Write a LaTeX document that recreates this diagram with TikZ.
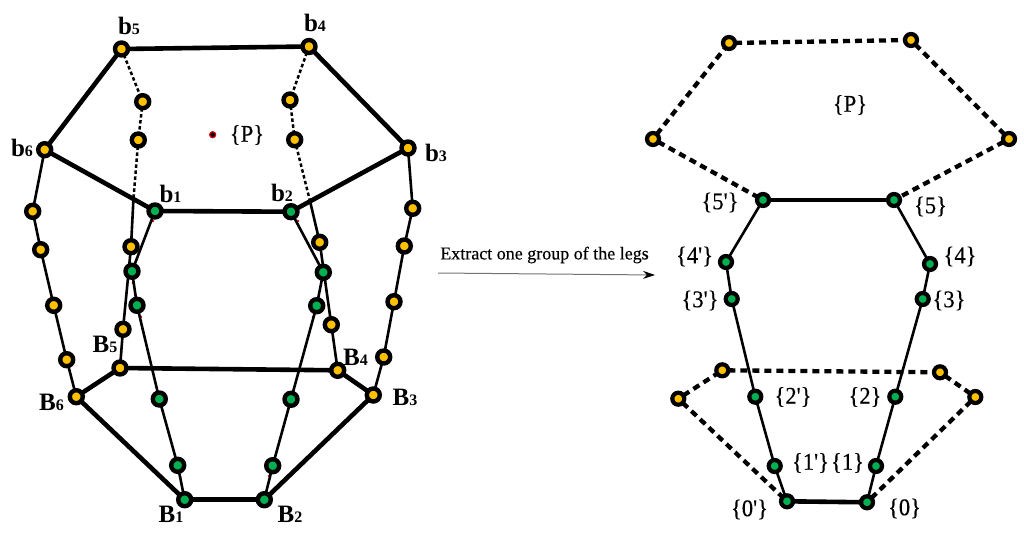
\documentclass[tikz,border=0pt]{standalone}
\usepackage{fontspec}
\setmainfont{Liberation Serif}
\newfontfamily\lf{Liberation Serif}[FakeBold=0.35]
\usetikzlibrary{arrows.meta}
\definecolor{jy}{HTML}{FFC000}
\definecolor{jg}{HTML}{00B050}
\newcommand{\bl}[2]{{\fontsize{25}{27}\bfseries\selectfont #1\fontsize{16}{18}\selectfont\bfseries #2}}
\newcommand{\tl}[1]{\scalebox{.94}[1]{\fontsize{24}{26}\lf\selectfont #1}}
\newcommand{\qt}{\textquotesingle}
\tikzset{
 yj/.style={circle,draw=black,fill=jy,line width=4.4pt,minimum size=13pt,inner sep=0pt,outer sep=0pt},
 gj/.style={circle,draw=black,fill=jg,line width=4.4pt,minimum size=13pt,inner sep=0pt,outer sep=0pt},
 yr/.style={yj,line width=4.2pt,minimum size=12pt},
 gr/.style={gj,line width=4.2pt,minimum size=12pt},
 thickl/.style={line width=4.6pt,line cap=round},
 thinl/.style={line width=2.6pt},
 dotl/.style={line width=2.5pt,dash pattern=on 3.5pt off 2.5pt},
 dashl/.style={line width=4.3pt,dash pattern=on 7pt off 5pt},
 lab/.style={inner sep=0pt,outer sep=0pt},
 speck/.style={circle,fill=red!85!black,minimum size=2.6pt,inner sep=0pt},
}
\begin{document}
\begin{tikzpicture}[x=1pt,y=-1pt]
\useasboundingbox (0,0) rectangle (1024,535);
% left figure: specks under the green joints
\foreach \n/\p in {s1/{153,221},s2/{298,221},s3/{133,283},s4/{141,317},s5/{163,411},s6/{180,477},s7/{313,317},s8/{288,411},s9/{269,476}}
  \node[speck] (\n) at (\p) {};
% yellow joints
\node[yj] (b5) at (121.5,49) {};
\node[yj] (b4) at (309,46.5) {};
\node[yj] (b6) at (44.7,149.7) {};
\node[yj] (b3) at (408,148) {};
\node[yj] (la) at (32.7,211.3) {};
\node[yj] (lb) at (40.7,249.7) {};
\node[yj] (lc) at (53.7,305.3) {};
\node[yj] (ld) at (66.7,359.7) {};
\node[yj] (B6) at (76.3,396.7) {};
\node[yj] (ra) at (412.7,208.3) {};
\node[yj] (rb) at (404.3,246) {};
\node[yj] (rc) at (394,301.7) {};
\node[yj] (rd) at (383.7,357) {};
\node[yj] (B3) at (373.3,395) {};
\node[yj] (ia) at (142.7,101.7) {};
\node[yj] (ib) at (138.3,140) {};
\node[yj] (ic) at (131,246.7) {};
\node[yj] (id) at (123,329.3) {};
\node[yj] (B5) at (120,368) {};
\node[yj] (ja) at (290,100) {};
\node[yj] (jb) at (294.7,139.7) {};
\node[yj] (jc) at (319.7,242.3) {};
\node[yj] (jd) at (331.3,324.7) {};
\node[yj] (B4) at (337.7,370.3) {};
\coordinate (mi) at (133.5,198);
\coordinate (mj) at (310,201);
% yellow legs
\draw[thinl] (b6)--(la)--(lb)--(lc)--(ld)--(B6);
\draw[thinl] (b3)--(ra)--(rb)--(rc)--(rd)--(B3);
\draw[dotl] (b5)--(ia); \draw[dotl] (ia)--(ib); \draw[dotl] (ib)--(mi);
\draw[dotl] (b4)--(ja); \draw[dotl] (ja)--(jb); \draw[dotl] (jb)--(mj);
\draw[thinl] (mi)--(ic); \draw[thinl] (ic)--(id); \draw[thinl] (id)--(B5);
\draw[thinl] (mj)--(jc); \draw[thinl] (jc)--(jd); \draw[thinl] (jd)--(B4);
% green joints
\node[gj] (b1) at (155,211) {};
\node[gj] (b2) at (291,211.7) {};
\node[gj] (ga) at (132,271.3) {};
\node[gj] (gb) at (137,305.3) {};
\node[gj] (gc) at (159.3,399) {};
\node[gj] (gd) at (177.7,465.3) {};
\node[gj] (B1) at (184.7,499.7) {};
\node[gj] (ha) at (323.3,272.3) {};
\node[gj] (hb) at (316.7,305.7) {};
\node[gj] (hc) at (291,399.3) {};
\node[gj] (hd) at (272.7,465.7) {};
\node[gj] (B2) at (264.3,499.7) {};
\draw[thinl] (b1)--(ga); \draw[thinl] (ga)--(gb); \draw[thinl] (gb)--(gc); \draw[thinl] (gc)--(gd); \draw[thinl] (gd)--(B1);
\draw[thinl] (b2)--(ha); \draw[thinl] (ha)--(hb); \draw[thinl] (hb)--(hc); \draw[thinl] (hc)--(hd); \draw[thinl] (hd)--(B2);
% platforms
\draw[thickl] (b1)--(b2); \draw[thickl] (b2)--(b3); \draw[thickl] (b3)--(b4);
\draw[thickl] (b4)--(b5); \draw[thickl] (b5)--(b6); \draw[thickl] (b6)--(b1);
\draw[thickl] (B1)--(B2); \draw[thickl] (B2)--(B3); \draw[thickl] (B3)--(B4);
\draw[thickl] (B4)--(B5); \draw[thickl] (B5)--(B6); \draw[thickl] (B6)--(B1);
% P
\node[circle,fill=black,draw=red!85!black,line width=1.2pt,minimum size=6pt,inner sep=0pt] (pp) at (212.7,134.7) {};
% left labels
\node[lab] (tP) at (247,135) {\tl{\{P\}}};
\node[lab] (tb5) at (129,26) {\bl{b}{5}};
\node[lab] (tb4) at (315,23) {\bl{b}{4}};
\node[lab] (tb6) at (22,148) {\bl{b}{6}};
\node[lab] (tb3) at (436,153) {\bl{b}{3}};
\node[lab] (tb1) at (170.5,193.5) {\bl{b}{1}};
\node[lab] (tb2) at (282,193) {\bl{b}{2}};
\node[lab] (tB5) at (105,344) {\bl{B}{5}};
\node[lab] (tB4) at (355.5,357.5) {\bl{B}{4}};
\node[lab] (tB6) at (51.5,402.5) {\bl{B}{6}};
\node[lab] (tB3) at (405,397.5) {\bl{B}{3}};
\node[lab] (tB1) at (171,514.5) {\bl{B}{1}};
\node[lab] (tB2) at (290,514.5) {\bl{B}{2}};
% arrow
\coordinate (ara) at (438,273);
\coordinate (arb) at (655,275);
\draw[line width=1pt,black!55,-{Stealth[length=12pt,width=8pt,black]}] (ara)--(arb);
\node[lab] (cap) at (544.5,255) {\fontsize{18}{20}\lf\selectfont Extract one group of the legs};
% right figure
\node[yr] (p1) at (729,43) {};
\node[yr] (p2) at (911,40) {};
\node[yr] (p3) at (1009,139) {};
\node[yr] (p4) at (653,139) {};
\node[gr] (g5l) at (763,200) {};
\node[gr] (g5r) at (894,200) {};
\node[gr] (g4l) at (726,262) {};
\node[gr] (g4r) at (930,264) {};
\node[gr] (g3l) at (731.7,299) {};
\node[gr] (g3r) at (922.7,299) {};
\node[gr] (g2l) at (755.3,396.7) {};
\node[gr] (g2r) at (895.3,396.7) {};
\node[gr] (g1l) at (774.7,466) {};
\node[gr] (g1r) at (876,466) {};
\node[gr] (g0l) at (787,501.3) {};
\node[gr] (g0r) at (867,502.3) {};
\node[yr] (q1) at (722.3,370.3) {};
\node[yr] (q2) at (940,372.3) {};
\node[yr] (q3) at (975.3,397) {};
\node[yr] (q4) at (678.3,398.7) {};
\draw[dashl] (p4)--(p1); \draw[dashl] (p1)--(p2); \draw[dashl] (p2)--(p3);
\draw[dashl] (p3)--(g5r); \draw[dashl] (p4)--(g5l);
\draw[thickl] (g5l)--(g5r);
\draw[thinl] (g5l)--(g4l); \draw[thinl] (g4l)--(g3l); \draw[thinl] (g3l)--(g2l); \draw[thinl] (g2l)--(g1l); \draw[thinl] (g1l)--(g0l);
\draw[thinl] (g5r)--(g4r); \draw[thinl] (g4r)--(g3r); \draw[thinl] (g3r)--(g2r); \draw[thinl] (g2r)--(g1r); \draw[thinl] (g1r)--(g0r);
\draw[thickl] (g0l)--(g0r);
\draw[dashl] (q4)--(q1); \draw[dashl] (q1)--(q2); \draw[dashl] (q2)--(q3);
\draw[dashl] (q3)--(g0r); \draw[dashl] (q4)--(g0l);
% right labels
\node[lab] (uP) at (850,105) {\tl{\{P\}}};
\node[lab] (u5l) at (720,202.5) {\tl{\{5\qt\}}};
\node[lab] (u5r) at (930.5,206.5) {\tl{\{5\}}};
\node[lab] (u4l) at (694.5,256.5) {\tl{\{4\qt\}}};
\node[lab] (u4r) at (960,256.5) {\tl{\{4\}}};
\node[lab] (u3l) at (700,300.5) {\tl{\{3\qt\}}};
\node[lab] (u3r) at (949,300.5) {\tl{\{3\}}};
\node[lab] (u2l) at (793,397) {\tl{\{2\qt\}}};
\node[lab] (u2r) at (865,397) {\tl{\{2\}}};
\node[lab] (u1l) at (810.5,463) {\tl{\{1\qt\}}};
\node[lab] (u1r) at (847.5,463) {\tl{\{1\}}};
\node[lab] (u0l) at (749.5,509.5) {\tl{\{0\qt\}}};
\node[lab] (u0r) at (904.5,508.5) {\tl{\{0\}}};
\end{tikzpicture}
\end{document}
